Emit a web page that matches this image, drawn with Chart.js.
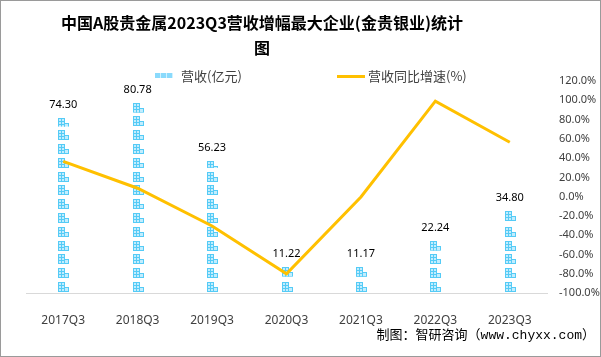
<!DOCTYPE html>
<html>
<head>
<meta charset="utf-8">
<script src="https://cdn.jsdelivr.net/npm/chart.js@4"></script>
<style>
  html, body { margin: 0; padding: 0; background: #fff; }
  #wrap { position: relative; width: 601px; height: 357px; overflow: hidden; background:#fff; }
  #c { position: absolute; left: 0; top: 0; }
  #title { position: absolute; left: 0; top: 10px; width: 524px; text-align: center;
    font-family: "Noto Sans CJK SC", sans-serif; font-weight: bold; font-size: 16px; line-height: 25px; color: #000; }
  .leg { position: absolute; top: 67px; font-family: "Noto Sans CJK SC", sans-serif; font-size: 13px; line-height: 17px; color: #404040; white-space: nowrap; }
  #legBar { position: absolute; left: 155px; top: 73px; width: 18px; height: 5px;
    background: repeating-linear-gradient(90deg, #8adafc 0 5px, #d0f2ff 5px 6px); }
  #legLine { position: absolute; left: 337px; top: 75px; width: 28px; height: 3px; background: #FFC000; }
  #src { position: absolute; right: 6px; top: 328px; font-family: "Liberation Mono", "Noto Sans CJK SC", monospace; font-size: 13px; line-height: 16px; color: #000; white-space: nowrap; }
  #frame { position: absolute; left: 0; top: 0; width: 601px; height: 357px; box-sizing: border-box; border: 1px solid #9a9a9a; pointer-events: none; }
</style>
</head>
<body>
<div id="wrap">
  <canvas id="c" width="601" height="357"></canvas>
  <div id="title">中国A股贵金属2023Q3营收增幅最大企业(金贵银业)统计<br>图</div>
  <div id="legBar"></div>
  <div class="leg" style="left:181px;">营收(亿元)</div>
  <div id="legLine"></div>
  <div class="leg" style="left:368px;">营收同比增速(%)</div>
  <div id="src">制图：智研咨询（www.chyxx.com）</div>
  <div id="frame"></div>
</div>
<script>
const categories = ['2017Q3', '2018Q3', '2019Q3', '2020Q3', '2021Q3', '2022Q3', '2023Q3'];
const revenue = [74.30, 80.78, 56.23, 11.22, 11.17, 22.24, 34.80];
const growth = [36.6, 8.7, -30.4, -80.0, -0.4, 99.1, 56.5];
const revenueAxisRange = [0, 90];
const growthAxisRange = [-100, 120];
const growthAxisStep = 20;

const ICON_PERIOD = 13.8;
const ICON_H = 10;

function drawIcon(ctx, cx, top) {
  const L = Math.round(cx) - 5;
  ctx.fillStyle = '#c2edfe';
  ctx.fillRect(L, top, 7, 10);
  ctx.fillRect(L + 7, top + 5, 4, 5);
  ctx.strokeStyle = '#55cbf6';
  ctx.lineWidth = 1;
  ctx.strokeRect(L + 0.5, top + 0.5, 6, 9);
  ctx.strokeRect(L + 6.5, top + 5.5, 4, 4);
  ctx.beginPath();
  ctx.moveTo(L, top + 3.5); ctx.lineTo(L + 7, top + 3.5);
  ctx.moveTo(L, top + 6.5); ctx.lineTo(L + 7, top + 6.5);
  ctx.moveTo(L + 3.5, top); ctx.lineTo(L + 3.5, top + 10);
  ctx.stroke();
}

const iconBars = {
  id: 'iconBars',
  afterDatasetDraw(chart, args) {
    if (args.meta.type !== 'bar') return;
    const ctx = chart.ctx;
    ctx.save();
    args.meta.data.forEach((bar) => {
      const top = bar.y, base = bar.base;
      const h = base - top;
      const n = Math.floor(h / ICON_PERIOD);
      for (let i = 0; i < n; i++) {
        const bottom = base - 1 - i * ICON_PERIOD;
        drawIcon(ctx, bar.x, Math.round(bottom - ICON_H));
      }
      const rem = h - n * ICON_PERIOD - 1;
      if (rem > 2) {
        ctx.save();
        ctx.beginPath();
        ctx.rect(bar.x - 8, top, 16, Math.min(rem, ICON_H));
        ctx.clip();
        drawIcon(ctx, bar.x, Math.round(top));
        ctx.restore();
      }
    });
    ctx.restore();
  },
  afterDatasetsDraw(chart) {
    const meta = chart.getDatasetMeta(0);
    const ctx = chart.ctx;
    ctx.save();
    ctx.font = '11px "Noto Sans", "Noto Sans CJK SC", sans-serif';
    ctx.fillStyle = '#000';
    ctx.textAlign = 'center';
    ctx.textBaseline = 'middle';
    meta.data.forEach((bar, i) => {
      ctx.fillText(revenue[i].toFixed(2), bar.x, bar.y - 13);
    });
    ctx.restore();
  }
};

new Chart(document.getElementById('c'), {
  data: {
    labels: categories,
    datasets: [
      {
        type: 'bar', label: '营收(亿元)', data: revenue, yAxisID: 'y',
        backgroundColor: 'rgba(0,0,0,0)', barThickness: 11, order: 1
      },
      {
        type: 'line', label: '营收同比增速(%)', data: growth, yAxisID: 'y1',
        borderColor: '#FFC000', borderWidth: 3, pointRadius: 0, pointHoverRadius: 0,
        tension: 0, fill: false, order: 0
      }
    ]
  },
  options: {
    responsive: false,
    animation: false,
    devicePixelRatio: 1,
    layout: { padding: { left: 26, top: 81, right: 0, bottom: 0 } },
    plugins: { legend: { display: false }, title: { display: false }, tooltip: { enabled: false } },
    scales: {
      x: {
        grid: { display: false },
        border: { display: true, color: '#d9d9d9', width: 1 },
        ticks: { color: '#404040', padding: 12, maxRotation: 0,
          font: { family: '"Noto Sans", "Noto Sans CJK SC", sans-serif', size: 12 } },
        afterFit(s) { s.height = 64; }
      },
      y: {
        display: false, min: revenueAxisRange[0], max: revenueAxisRange[1]
      },
      y1: {
        position: 'right', min: growthAxisRange[0], max: growthAxisRange[1],
        grid: { display: false, drawTicks: false },
        border: { display: false },
        ticks: { stepSize: growthAxisStep, color: '#404040', padding: 12,
          font: { family: '"Noto Sans", "Noto Sans CJK SC", sans-serif', size: 11 },
          callback: (v) => v.toFixed(1) + '%' },
        afterFit(s) { s.width = 54; }
      }
    }
  },
  plugins: [iconBars]
});
</script>
</body>
</html>
